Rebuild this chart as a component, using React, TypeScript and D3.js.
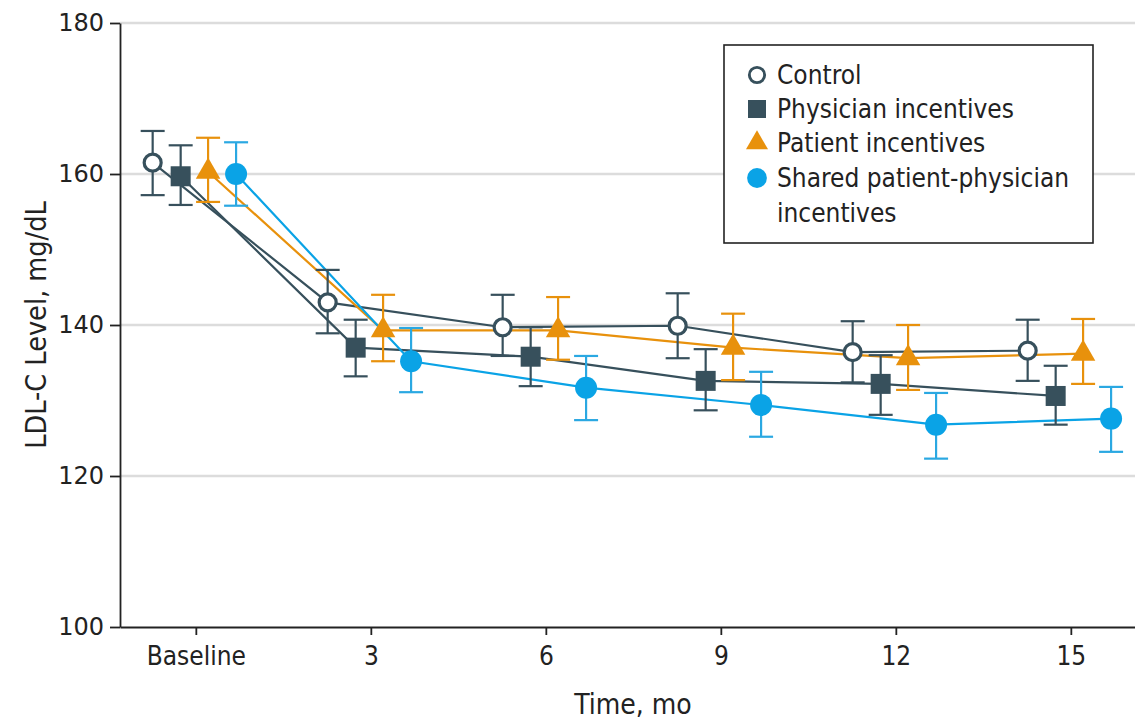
import React, { useEffect, useRef } from "react";
import * as d3 from "d3";

const timeLabels = ["Baseline", "3", "6", "9", "12", "15"];
const months = [0, 3, 6, 9, 12, 15];
const yTicks = [100, 120, 140, 160, 180];

const seriesNames = ["Control", "Physician incentives", "Patient incentives", "Shared patient-physician incentives"];

const controlMean = [161.5, 143.0, 139.7, 139.9, 136.4, 136.6];
const controlLow = [157.2, 138.9, 135.9, 135.6, 132.4, 132.6];
const controlHigh = [165.7, 147.3, 144.0, 144.2, 140.5, 140.7];

const physicianMean = [159.7, 137.0, 135.8, 132.6, 132.2, 130.6];
const physicianLow = [155.9, 133.2, 131.9, 128.7, 128.1, 126.8];
const physicianHigh = [163.8, 140.7, 139.7, 136.8, 136.0, 134.6];

const patientMean = [160.3, 139.3, 139.3, 137.0, 135.6, 136.2];
const patientLow = [156.3, 135.2, 135.4, 132.7, 131.4, 132.2];
const patientHigh = [164.8, 144.0, 143.7, 141.5, 140.0, 140.8];

const sharedMean = [160.0, 135.2, 131.7, 129.4, 126.8, 127.6];
const sharedLow = [155.8, 131.1, 127.4, 125.2, 122.3, 123.2];
const sharedHigh = [164.2, 139.6, 135.9, 133.8, 131.0, 131.8];

const App = () => {
  const ref = useRef<SVGSVGElement>(null);

  useEffect(() => {
    const svg = d3.select(ref.current);
    svg.selectAll("*").remove();

    const left = 120, right = 1135, top = 23, bottom = 627;
    const x = d3.scaleLinear().domain([-1.3, 16.1]).range([left, right]);
    const y = d3.scaleLinear().domain([100, 180]).range([bottom, top]);

    const slate = "#37505c";
    const orange = "#e8910c";
    const blue = "#0aa3e6";
    const blueBar = "#2aa8e2";

    const series = [
      { name: seriesNames[0], mean: controlMean, low: controlLow, high: controlHigh, color: slate, bar: slate, shape: "open", off: -0.74 },
      { name: seriesNames[1], mean: physicianMean, low: physicianLow, high: physicianHigh, color: slate, bar: slate, shape: "square", off: -0.26 },
      { name: seriesNames[2], mean: patientMean, low: patientLow, high: patientHigh, color: orange, bar: orange, shape: "triangle", off: 0.21 },
      { name: seriesNames[3], mean: sharedMean, low: sharedLow, high: sharedHigh, color: blue, bar: blueBar, shape: "circle", off: 0.69 },
    ];

    const condensed = "'Liberation Sans Narrow', 'DejaVu Sans Condensed', 'Roboto', sans-serif";

    // grid
    svg.append("g")
      .selectAll("line")
      .data(yTicks.filter(t => t > 100))
      .enter()
      .append("line")
      .attr("x1", left)
      .attr("x2", right)
      .attr("y1", d => y(d))
      .attr("y2", d => y(d))
      .attr("stroke", "#dcdcdc")
      .attr("stroke-width", 2.5);

    // y axis
    const yAxis = svg.append("g")
      .attr("transform", `translate(${left},0)`)
      .call(d3.axisLeft(y).tickValues(yTicks).tickSize(10).tickSizeOuter(0).tickPadding(6));
    yAxis.select(".domain").attr("stroke", "#222").attr("stroke-width", 1.8);
    yAxis.selectAll(".tick line").attr("stroke", "#222").attr("stroke-width", 1.8);
    yAxis.selectAll("text")
      .attr("font-family", "'DejaVu Sans', Verdana, sans-serif")
      .attr("font-size", 24)
      .attr("fill", "#222");

    // x axis
    const xAxis = svg.append("g")
      .attr("transform", `translate(0,${bottom})`)
      .call(d3.axisBottom(x).tickValues(months).tickFormat((d, i) => timeLabels[i]).tickSize(8).tickSizeOuter(0).tickPadding(12));
    xAxis.select(".domain").attr("stroke", "#222").attr("stroke-width", 1.8);
    xAxis.selectAll(".tick line").attr("stroke", "#222").attr("stroke-width", 1.8);
    xAxis.selectAll("text")
      .attr("font-family", condensed)
      .attr("font-size", 26)
      .attr("fill", "#222");

    svg.append("text")
      .attr("x", 633)
      .attr("y", 714)
      .attr("text-anchor", "middle")
      .attr("font-family", condensed)
      .attr("font-size", 28)
      .attr("fill", "#222")
      .text("Time, mo");

    svg.append("text")
      .attr("transform", `translate(46,${(top + bottom) / 2}) rotate(-90)`)
      .attr("text-anchor", "middle")
      .attr("font-family", condensed)
      .attr("font-size", 28.5)
      .attr("fill", "#222")
      .text("LDL-C Level, mg/dL");

    // lines
    series.forEach(s => {
      svg.append("path")
        .datum(s.mean)
        .attr("fill", "none")
        .attr("stroke", s.color)
        .attr("stroke-width", 2.2)
        .attr("d", d3.line<number>().x((d, i) => x(months[i] + s.off)).y(d => y(d)));
    });

    // error bars
    series.forEach(s => {
      const g = svg.append("g").attr("stroke", s.bar).attr("stroke-width", 2.2);
      months.forEach((m, i) => {
        const cx = x(m + s.off);
        g.append("line").attr("x1", cx).attr("x2", cx).attr("y1", y(s.low[i])).attr("y2", y(s.high[i]));
        g.append("line").attr("x1", cx - 12).attr("x2", cx + 12).attr("y1", y(s.low[i])).attr("y2", y(s.low[i]));
        g.append("line").attr("x1", cx - 12).attr("x2", cx + 12).attr("y1", y(s.high[i])).attr("y2", y(s.high[i]));
      });
    });

    const drawMarker = (g: any, shape: string, color: string, cx: number, cy: number, scale = 1) => {
      if (shape === "open") {
        g.append("circle").attr("cx", cx).attr("cy", cy).attr("r", 8.5 * scale)
          .attr("fill", "white").attr("stroke", color).attr("stroke-width", 3.2 * scale);
      } else if (shape === "square") {
        const s = 20 * scale;
        g.append("rect").attr("x", cx - s / 2).attr("y", cy - s / 2).attr("width", s).attr("height", s).attr("fill", color);
      } else if (shape === "triangle") {
        g.append("path")
          .attr("d", d3.symbol().type(d3.symbolTriangle).size(260 * scale * scale)())
          .attr("transform", `translate(${cx},${cy})`)
          .attr("fill", color);
      } else {
        g.append("circle").attr("cx", cx).attr("cy", cy).attr("r", 11 * scale).attr("fill", color);
      }
    };

    // markers
    series.forEach(s => {
      const g = svg.append("g");
      s.mean.forEach((v, i) => drawMarker(g, s.shape, s.color, x(months[i] + s.off), y(v)));
    });

    // legend
    const lg = svg.append("g");
    lg.append("rect")
      .attr("x", 724).attr("y", 45).attr("width", 369).attr("height", 198)
      .attr("fill", "white").attr("stroke", "#222").attr("stroke-width", 1.6);
    const rows = [75, 109, 143, 178];
    series.forEach((s, i) => {
      drawMarker(lg, s.shape, s.color, 757, rows[i], 0.9);
      const t = lg.append("text")
        .attr("x", 777).attr("y", rows[i] + 9)
        .attr("font-family", condensed).attr("font-size", 26).attr("fill", "#222");
      if (i === 3) {
        t.append("tspan").attr("x", 777).text("Shared patient-physician");
        t.append("tspan").attr("x", 777).attr("dy", 35).text("incentives");
      } else {
        t.text(s.name);
      }
    });
  }, []);

  return <svg ref={ref} width={1135} height={723} style={{ position: "absolute", left: 0, top: 0 }} />;
};

export default App;
